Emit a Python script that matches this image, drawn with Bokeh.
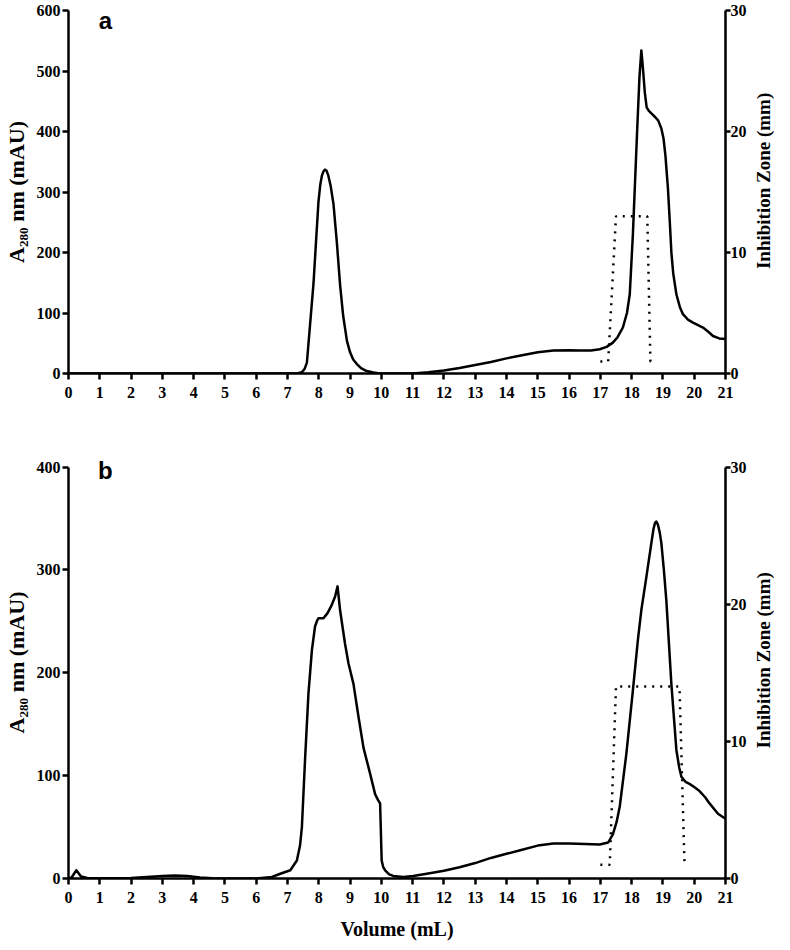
from bokeh.plotting import figure
from bokeh.models import Range1d, LinearAxis, FixedTicker, Label
from bokeh.layouts import column, row
from bokeh.embed import file_html
from bokeh.resources import INLINE
from math import pi

# ---------------- data ----------------
x_ticks = list(range(0, 22))

# Panel a : A280 trace
vol_a = [0, 7.3, 7.46, 7.55, 7.62, 7.72, 7.83, 7.92, 7.99, 8.05, 8.1, 8.15, 8.2, 8.25, 8.3,
         8.38, 8.47, 8.58, 8.68, 8.78, 8.9, 9.0, 9.1, 9.21, 9.35, 9.53, 9.75, 9.96, 10.5,
         11.0, 11.5, 12.0, 12.5, 13.0, 13.5, 14.0, 14.5, 15.0, 15.5, 16.0, 16.34, 16.7,
         16.98, 17.2, 17.4, 17.55, 17.72, 17.85, 17.94, 18.04, 18.17, 18.25, 18.31, 18.36,
         18.42, 18.48, 18.55, 18.63, 18.75, 18.85, 18.95, 19.02, 19.08, 19.16, 19.22, 19.27,
         19.33, 19.43, 19.54, 19.64, 19.8, 19.96, 20.12, 20.28, 20.45, 20.6, 20.8, 21.0]
a280_a = [0, 0, 2, 8, 18, 80, 148, 225, 284, 313, 327, 334, 337, 335, 328,
          310, 280, 215, 147, 95, 54, 35, 23, 16, 9, 4, 1.5, 0, 0,
          0, 2, 5, 9, 14, 19, 25, 30, 35, 38, 38.5, 38, 38,
          40, 44, 51, 60, 76, 100, 131, 230, 394, 490, 534, 505,
          465, 440, 434, 430, 424, 418, 405, 388, 360, 306, 250, 200,
          165, 131, 110, 98, 89, 84, 80, 76, 69, 62, 58, 57]

# Panel a : inhibition zone
iz_vol_a = [17.0, 17.25, 17.5, 18.5, 18.6, 18.8]
iz_a = [1, 1, 13, 13, 1, 1]

# Panel b : A280 trace
vol_b = [0, 0.1, 0.25, 0.4, 0.6, 1.0, 2.0, 2.5, 3.0, 3.4, 3.8, 4.2, 4.6, 5.0, 6.0, 6.5,
         6.77, 7.09, 7.3, 7.4, 7.46, 7.56, 7.67, 7.78, 7.88, 7.95, 7.99, 8.15, 8.28, 8.4,
         8.52, 8.6, 8.68, 8.84, 8.95, 9.11, 9.27, 9.43, 9.64, 9.8, 9.9, 9.96, 10.01, 10.06,
         10.12, 10.25, 10.38, 10.7, 11.02, 11.45, 12.0, 12.5, 13.0, 13.5, 14.0, 14.5, 15.0,
         15.5, 16.0, 16.5, 16.98, 17.25, 17.4, 17.52, 17.62, 17.83, 18.04, 18.2, 18.31,
         18.47, 18.63, 18.7, 18.75, 18.79, 18.84, 18.9, 18.95, 19.03, 19.11, 19.27, 19.43,
         19.52, 19.59, 19.72, 19.85, 20.0, 20.17, 20.35, 20.49, 20.76, 21.0]
a280_b = [0, 1, 8, 2, 0.5, 0.3, 0.5, 1.5, 2.5, 3, 2.5, 1, 0.3, 0, 0, 1.5,
          4.6, 8, 17.5, 32, 50, 115, 180, 222, 245, 251, 253, 253, 258, 265,
          274, 284, 261, 228, 209, 189, 157, 127, 102, 82, 76, 73, 17.5, 11,
          8, 4, 2.5, 1.5, 2.5, 4.6, 7.5, 11, 15, 20, 24, 28, 32,
          34, 34, 33.5, 33, 35, 43, 55, 70, 121, 183, 232, 261,
          293, 326, 340, 346, 347, 344, 336, 326, 300, 270, 189, 125,
          108, 99, 94, 92, 89, 85, 79, 73, 63, 58]

# Panel b : inhibition zone
iz_vol_b = [17.0, 17.3, 17.5, 19.53, 19.69]
iz_b = [1, 1, 14, 14, 1]

LEFT_TITLE = "A₂₈₀ nm (mAU)"
RIGHT_TITLE = "Inhibition Zone (mm)"
X_TITLE = "Volume (mL)"

SERIF = "Liberation Serif"
SANS = "Liberation Sans"
TICK_FS = "16px"
TITLE_FS = "20px"

MAIN_W = 751
STRIP_W = 23


def style_axis(ax):
    ax.axis_line_width = 2.5
    ax.axis_line_color = "black"
    ax.major_tick_line_width = 2.5
    ax.major_tick_line_color = "black"
    ax.major_tick_out = 6
    ax.major_tick_in = 0
    ax.minor_tick_out = 0
    ax.minor_tick_in = 0
    ax.major_label_text_font = SERIF
    ax.major_label_text_font_style = "bold"
    ax.major_label_text_font_size = TICK_FS
    ax.major_label_text_color = "black"
    ax.axis_label_text_font = SERIF
    ax.axis_label_text_font_style = "bold"
    ax.axis_label_text_font_size = TITLE_FS
    ax.axis_label_text_color = "black"
    ax.major_label_standoff = 3


def make_panel(vol, a280, iz_vol, iz, ymax, yshow, yticks, height, top, bottom,
               letter, letter_y, x_title=None):
    # yshow: top of the visible axis; ymax: top of the plotting frame (room for the letter)
    p = figure(width=MAIN_W, height=height, x_range=Range1d(0, 21),
               y_range=Range1d(0, ymax),
               output_backend="svg", toolbar_location=None,
               min_border_left=60, min_border_right=26,
               min_border_top=top, min_border_bottom=bottom)
    p.extra_y_ranges = {"iz": Range1d(0, 30 * ymax / yshow)}
    right = LinearAxis(y_range_name="iz")
    p.add_layout(right, "right")
    p.xgrid.grid_line_color = None
    p.ygrid.grid_line_color = None
    p.outline_line_color = None
    p.background_fill_color = "white"
    p.border_fill_color = "white"

    xa = p.below[0]
    style_axis(xa)
    xa.ticker = FixedTicker(ticks=x_ticks)
    xa.major_label_standoff = 7
    if x_title:
        xa.axis_label = x_title
        xa.axis_label_standoff = 12

    la = p.left[0]
    style_axis(la)
    la.ticker = FixedTicker(ticks=yticks)
    la.bounds = (0, yshow)
    la.axis_label = LEFT_TITLE
    la.axis_label_text_font_size = "22px"
    la.axis_label_standoff = 5
    la.major_label_standoff = 2

    style_axis(right)
    right.ticker = FixedTicker(ticks=[0, 10, 20, 30])
    right.bounds = (0, 30)
    right.major_tick_out = 5
    right.major_label_standoff = 0

    p.line(vol, a280, line_color="black", line_width=2.5, line_join="round")
    p.line(iz_vol, iz, y_range_name="iz", line_color="black", line_width=2.5,
           line_dash="2 6", line_cap="butt")

    p.add_layout(Label(x=1.18, y=letter_y, text=letter, text_font=SANS,
                       text_font_style="bold", text_font_size="24px",
                       text_align="center", text_baseline="middle",
                       text_color="black"))

    # narrow strip to the right carrying the right-axis title (reads bottom to top)
    s = figure(width=STRIP_W, height=height, x_range=Range1d(0, 1), y_range=Range1d(0, height),
               output_backend="svg", toolbar_location=None,
               x_axis_location=None, y_axis_location=None,
               min_border_left=0, min_border_right=0, min_border_top=0, min_border_bottom=0)
    s.xgrid.grid_line_color = None
    s.ygrid.grid_line_color = None
    s.outline_line_color = None
    s.background_fill_color = "white"
    s.border_fill_color = "white"
    frame_h = height - top - bottom
    centre = bottom + frame_h * (yshow / ymax) / 2
    s.add_layout(Label(x=0.5, y=centre, text=RIGHT_TITLE, text_font=SERIF,
                       text_font_style="bold", text_font_size="19px", angle=pi / 2,
                       text_align="center", text_baseline="middle", text_color="black"))
    return row(p, s)


pa = make_panel(vol_a, a280_a, iz_vol_a, iz_a, 600, 600, [0, 100, 200, 300, 400, 500, 600],
                408, 10, 35, "a", 583)
pb = make_panel(vol_b, a280_b, iz_vol_b, iz_b, 420, 400, [0, 100, 200, 300, 400],
                534, 38, 64, "b", 397, x_title=X_TITLE)

layout = column(pa, pb)
open("out.html", "w").write(file_html(layout, INLINE))
